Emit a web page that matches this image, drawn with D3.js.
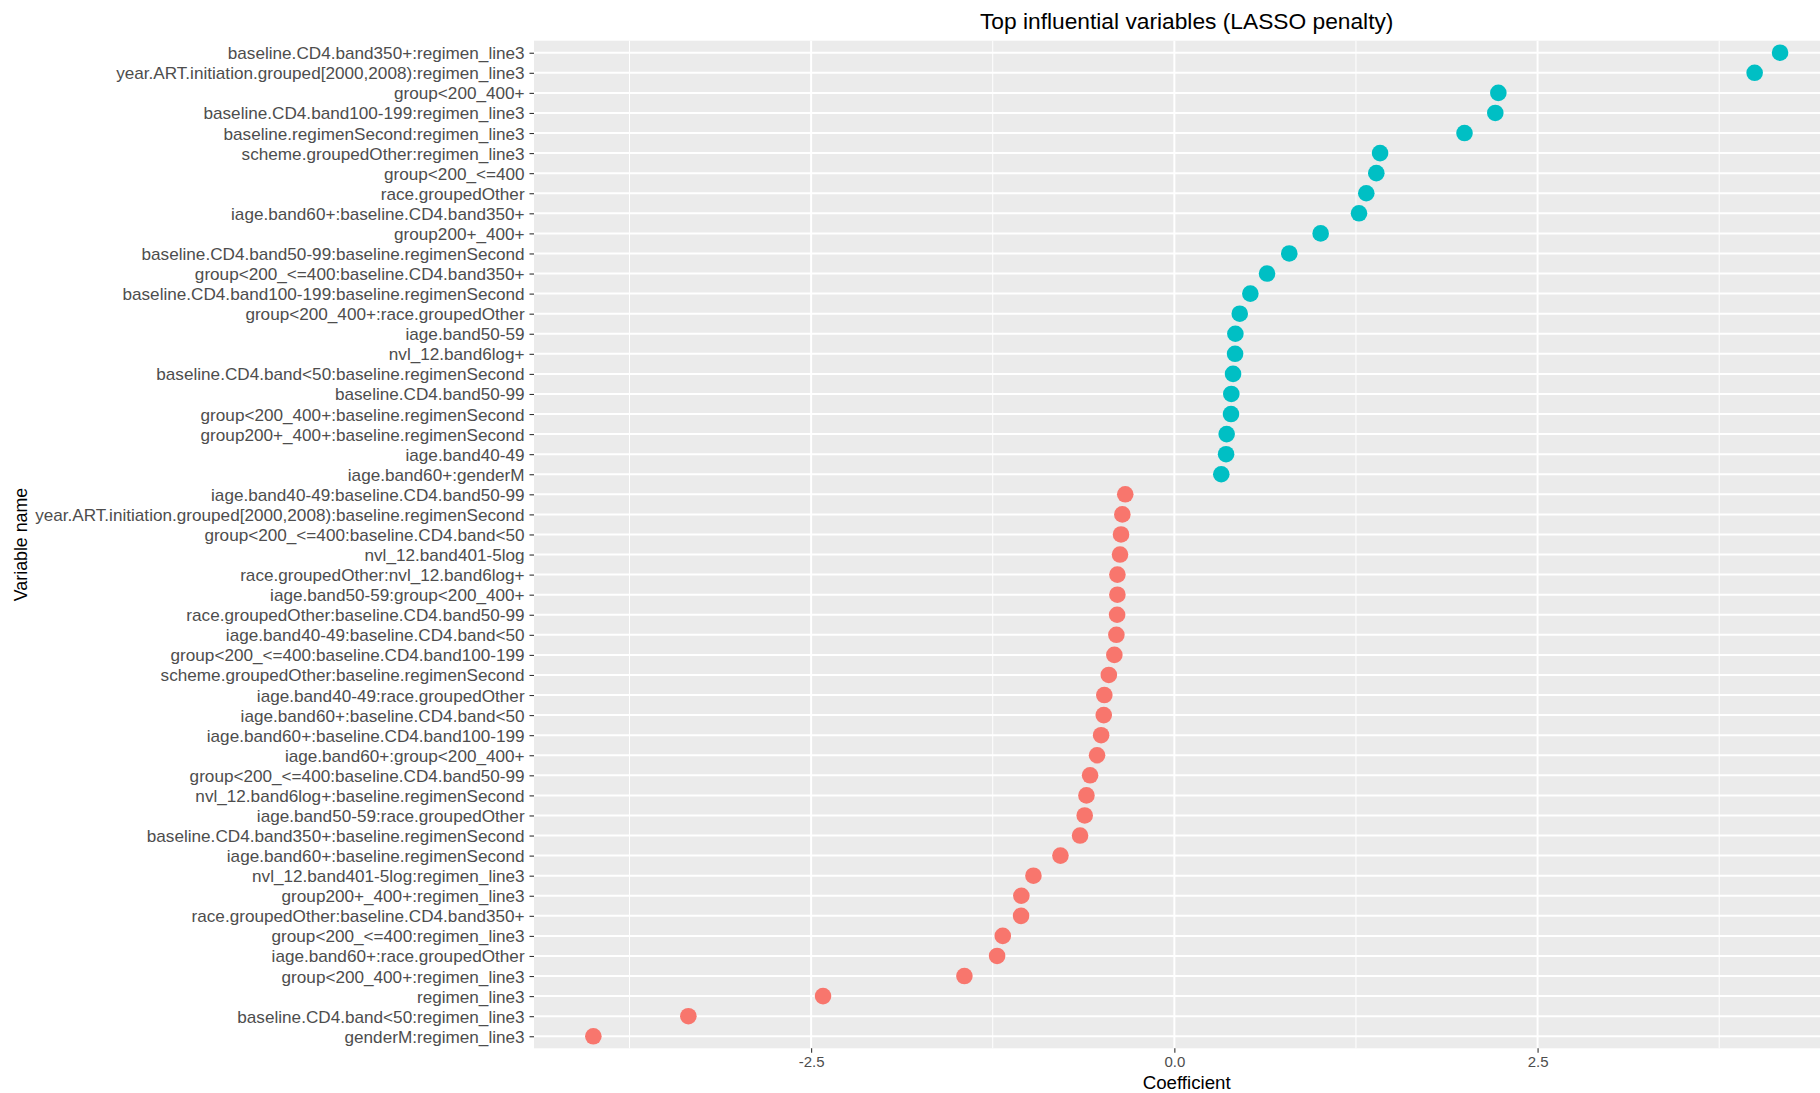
<!DOCTYPE html>
<html>
<head>
<meta charset="utf-8">
<script src="https://cdn.jsdelivr.net/npm/d3@7"></script>
<style>
  html, body { margin: 0; padding: 0; background: #fff; }
  svg { display: block; font-family: "Liberation Sans", Arial, Helvetica, sans-serif; }
</style>
</head>
<body>
<svg id="chart" width="1820" height="1093"></svg>
<script>
// ---- data (top to bottom) ----
const variables = [
  "baseline.CD4.band350+:regimen_line3",
  "year.ART.initiation.grouped[2000,2008):regimen_line3",
  "group<200_400+",
  "baseline.CD4.band100-199:regimen_line3",
  "baseline.regimenSecond:regimen_line3",
  "scheme.groupedOther:regimen_line3",
  "group<200_<=400",
  "race.groupedOther",
  "iage.band60+:baseline.CD4.band350+",
  "group200+_400+",
  "baseline.CD4.band50-99:baseline.regimenSecond",
  "group<200_<=400:baseline.CD4.band350+",
  "baseline.CD4.band100-199:baseline.regimenSecond",
  "group<200_400+:race.groupedOther",
  "iage.band50-59",
  "nvl_12.band6log+",
  "baseline.CD4.band<50:baseline.regimenSecond",
  "baseline.CD4.band50-99",
  "group<200_400+:baseline.regimenSecond",
  "group200+_400+:baseline.regimenSecond",
  "iage.band40-49",
  "iage.band60+:genderM",
  "iage.band40-49:baseline.CD4.band50-99",
  "year.ART.initiation.grouped[2000,2008):baseline.regimenSecond",
  "group<200_<=400:baseline.CD4.band<50",
  "nvl_12.band401-5log",
  "race.groupedOther:nvl_12.band6log+",
  "iage.band50-59:group<200_400+",
  "race.groupedOther:baseline.CD4.band50-99",
  "iage.band40-49:baseline.CD4.band<50",
  "group<200_<=400:baseline.CD4.band100-199",
  "scheme.groupedOther:baseline.regimenSecond",
  "iage.band40-49:race.groupedOther",
  "iage.band60+:baseline.CD4.band<50",
  "iage.band60+:baseline.CD4.band100-199",
  "iage.band60+:group<200_400+",
  "group<200_<=400:baseline.CD4.band50-99",
  "nvl_12.band6log+:baseline.regimenSecond",
  "iage.band50-59:race.groupedOther",
  "baseline.CD4.band350+:baseline.regimenSecond",
  "iage.band60+:baseline.regimenSecond",
  "nvl_12.band401-5log:regimen_line3",
  "group200+_400+:regimen_line3",
  "race.groupedOther:baseline.CD4.band350+",
  "group<200_<=400:regimen_line3",
  "iage.band60+:race.groupedOther",
  "group<200_400+:regimen_line3",
  "regimen_line3",
  "baseline.CD4.band<50:regimen_line3",
  "genderM:regimen_line3"
];
const coefficients = [
  4.169, 3.994, 2.230, 2.209, 1.997, 1.416, 1.390, 1.321, 1.271, 1.007,
  0.791, 0.638, 0.523, 0.450, 0.420, 0.418, 0.404, 0.392, 0.390, 0.360,
  0.356, 0.323,
  -0.338, -0.358, -0.367, -0.374, -0.392, -0.392, -0.394, -0.399, -0.413, -0.451,
  -0.482, -0.486, -0.504, -0.532, -0.580, -0.605, -0.617, -0.649, -0.784,
  -0.970, -1.053, -1.055, -1.181, -1.220, -1.445, -2.418, -3.345, -3.999
];
const majorTicks = [-2.5, 0, 2.5];
const majorTickLabels = ["-2.5", "0.0", "2.5"];
const minorTicks = [-3.75, -1.25, 1.25, 3.75];
const titleText = "Top influential variables (LASSO penalty)";
const xTitle = "Coefficient";
const yTitle = "Variable name";

// ---- layout ----
const panel = { left: 534, right: 1839.4, top: 40.7, bottom: 1048.3 };
const colPos = "#00BFC4", colNeg = "#F8766D";

const svg = d3.select("#chart");

const [mn, mx] = d3.extent(coefficients);
const pad = (mx - mn) * 0.05;
const x = d3.scaleLinear().domain([mn - pad, mx + pad]).range([panel.left, panel.right]);
const y = d3.scalePoint().domain(variables).range([panel.top, panel.bottom]).padding(0.6);

// panel background
svg.append("rect")
  .attr("x", panel.left).attr("y", panel.top)
  .attr("width", panel.right - panel.left).attr("height", panel.bottom - panel.top)
  .attr("fill", "#EBEBEB");

// minor vertical grid
svg.append("g").selectAll("line").data(minorTicks).join("line")
  .attr("x1", d => x(d)).attr("x2", d => x(d))
  .attr("y1", panel.top).attr("y2", panel.bottom)
  .attr("stroke", "#fff").attr("stroke-width", 1);

// major vertical grid
svg.append("g").selectAll("line").data(majorTicks).join("line")
  .attr("x1", d => x(d)).attr("x2", d => x(d))
  .attr("y1", panel.top).attr("y2", panel.bottom)
  .attr("stroke", "#fff").attr("stroke-width", 2);

// horizontal grid
svg.append("g").selectAll("line").data(variables).join("line")
  .attr("x1", panel.left).attr("x2", panel.right)
  .attr("y1", d => y(d)).attr("y2", d => y(d))
  .attr("stroke", "#fff").attr("stroke-width", 2);

// points
const pts = variables.map((v, i) => ({ v, c: coefficients[i] }));
svg.append("g").selectAll("circle").data(pts).join("circle")
  .attr("cx", d => x(d.c)).attr("cy", d => y(d.v))
  .attr("r", 8.3)
  .attr("fill", d => d.c >= 0 ? colPos : colNeg);

// y axis
const yAxis = svg.append("g")
  .attr("transform", `translate(${panel.left},0)`)
  .call(d3.axisLeft(y).tickSize(4.5).tickPadding(4.9));
yAxis.select(".domain").remove();
yAxis.selectAll(".tick line").attr("stroke", "#333333").attr("stroke-width", 1.1);
yAxis.selectAll(".tick text")
  .attr("fill", "#4D4D4D").attr("font-size", 17.15).attr("dy", "0.35em")
  .style("font-family", "'Liberation Sans', Arial, Helvetica, sans-serif");

// x axis
const xAxis = svg.append("g")
  .attr("transform", `translate(0,${panel.bottom})`)
  .call(d3.axisBottom(x).tickValues(majorTicks)
    .tickFormat((d, i) => majorTickLabels[i]).tickSize(4.5).tickPadding(3.5));
xAxis.select(".domain").remove();
xAxis.selectAll(".tick line").attr("stroke", "#333333").attr("stroke-width", 1.1);
xAxis.selectAll(".tick text")
  .attr("fill", "#4D4D4D").attr("font-size", 15)
  .style("font-family", "'Liberation Sans', Arial, Helvetica, sans-serif");

const cx = (panel.left + panel.right) / 2;

// title
svg.append("text")
  .attr("x", cx).attr("y", 29.3)
  .attr("text-anchor", "middle")
  .attr("font-size", 22.75).attr("fill", "#000")
  .text(titleText);

// x title
svg.append("text")
  .attr("x", cx).attr("y", 1089)
  .attr("text-anchor", "middle")
  .attr("font-size", 18.7).attr("fill", "#000")
  .text(xTitle);

// y title
svg.append("text")
  .attr("transform", `translate(27,${(panel.top + panel.bottom) / 2}) rotate(-90)`)
  .attr("text-anchor", "middle")
  .attr("font-size", 17.8).attr("fill", "#000")
  .text(yTitle);
</script>
</body>
</html>
